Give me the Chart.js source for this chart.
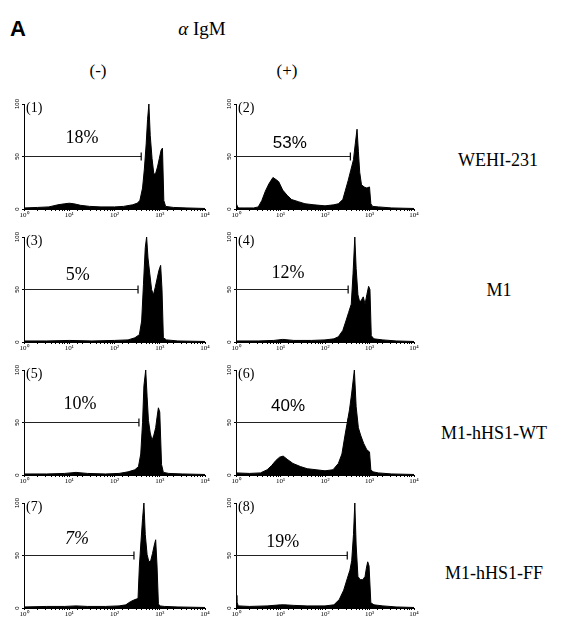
<!DOCTYPE html>
<html>
<head>
<meta charset="utf-8">
<script src="https://cdn.jsdelivr.net/npm/chart.js@4.4.1/dist/chart.umd.min.js"></script>
<style>
  body { margin: 0; background: #fff; }
  #wrap { position: relative; width: 580px; height: 621px; overflow: hidden; color: #000; font-family: "Liberation Serif", serif; }
  .lbl { position: absolute; white-space: nowrap; line-height: 1; transform: translate(-50%, -50%); }
  canvas { position: absolute; }
</style>
</head>
<body>
<div id="wrap">
  <div class="lbl" style="left:18px;top:29px;font-family:'Liberation Sans',sans-serif;font-weight:bold;font-size:22px;">A</div>
  <div class="lbl" style="left:202px;top:28px;font-size:19px;"><i>&alpha;</i> IgM</div>
  <div class="lbl" style="left:98px;top:70px;font-size:17px;">(-)</div>
  <div class="lbl" style="left:287px;top:70px;font-size:17px;">(+)</div>
</div>
<script>
// histogram data: x = log10 fluorescence (decades), y = relative cell number
var p1Log = [0, 0.3, 0.55, 0.75, 0.9, 1.0, 1.1, 1.25, 1.45, 1.7, 2.0, 2.2, 2.4, 2.5, 2.56, 2.62, 2.66, 2.7, 2.73, 2.76, 2.79, 2.83, 2.87, 2.91, 2.95, 2.99, 3.03, 3.06, 3.09, 3.13, 3.3, 3.6, 4.0];
var p1Count = [1, 1.5, 2, 4, 5, 5.5, 5, 3.5, 2.5, 2, 2, 2.5, 4, 5.5, 8, 20, 38, 62, 85, 100, 70, 48, 33, 34, 40, 48, 56, 58, 8, 2.5, 1.5, 1, 0.5];

var p2Log = [0, 0.02, 0.06, 0.2, 0.4, 0.5, 0.58, 0.66, 0.74, 0.83, 0.9, 0.96, 1.05, 1.15, 1.25, 1.4, 1.55, 1.75, 2.0, 2.2, 2.3, 2.4, 2.46, 2.52, 2.58, 2.64, 2.68, 2.72, 2.75, 2.78, 2.82, 2.88, 2.94, 3.0, 3.03, 3.07, 3.2, 3.5, 4.0];
var p2Count = [4, 3, 1, 1, 1, 2, 8, 17, 24, 30, 28, 26, 18, 13, 9, 7, 5, 4, 3, 4, 5, 9, 18, 27, 37, 47, 62, 76, 55, 35, 23, 21, 20, 21, 5, 2.5, 2, 1, 0.5];

var p3Log = [0, 0.5, 1.0, 1.5, 2.0, 2.3, 2.45, 2.55, 2.6, 2.64, 2.68, 2.71, 2.74, 2.78, 2.82, 2.86, 2.9, 2.94, 2.98, 3.02, 3.05, 3.08, 3.15, 3.4, 4.0];
var p3Count = [1, 1, 1.5, 1, 1.5, 2, 4, 7, 20, 55, 90, 100, 80, 65, 50, 45, 52, 60, 68, 73, 50, 4, 2, 1, 0.5];

var p4Log = [0, 0.5, 0.85, 1.05, 1.3, 1.7, 2.0, 2.2, 2.3, 2.4, 2.47, 2.53, 2.59, 2.63, 2.67, 2.7, 2.74, 2.78, 2.82, 2.86, 2.9, 2.94, 2.98, 3.01, 3.04, 3.1, 3.3, 3.6, 4.0];
var p4Count = [1, 1, 1.5, 2.5, 1.5, 1.5, 2, 3, 5, 11, 20, 28, 36, 65, 100, 70, 45, 38, 40, 43, 36, 45, 53, 50, 6, 3, 2, 1, 0.5];

var p5Log = [0, 0.5, 0.9, 1.15, 1.4, 1.8, 2.1, 2.3, 2.45, 2.53, 2.58, 2.62, 2.65, 2.69, 2.72, 2.75, 2.79, 2.83, 2.87, 2.91, 2.94, 2.97, 3.0, 3.04, 3.08, 3.2, 3.5, 4.0];
var p5Count = [1, 1, 1.5, 2.5, 1.5, 1, 1.5, 3, 5, 8, 20, 50, 85, 100, 75, 52, 40, 33, 38, 45, 55, 64, 60, 10, 2.5, 1.5, 1, 0.5];

var p6Log = [0, 0.3, 0.55, 0.7, 0.8, 0.9, 0.98, 1.06, 1.15, 1.28, 1.45, 1.6, 1.8, 2.0, 2.18, 2.3, 2.38, 2.45, 2.5, 2.55, 2.6, 2.66, 2.7, 2.75, 2.8, 2.87, 2.94, 3.0, 3.03, 3.08, 3.2, 3.5, 4.0];
var p6Count = [2, 1.5, 2, 5, 9, 14, 17, 18, 15, 11, 8, 6, 5, 4, 5, 11, 20, 38, 50, 62, 78, 100, 65, 45, 38, 30, 24, 22, 5, 3, 2, 1, 0.5];

var p7Log = [0, 0.5, 0.9, 1.15, 1.4, 1.8, 2.1, 2.25, 2.35, 2.45, 2.52, 2.55, 2.58, 2.62, 2.65, 2.68, 2.72, 2.76, 2.8, 2.84, 2.88, 2.91, 2.94, 2.97, 3.0, 3.1, 3.4, 4.0];
var p7Count = [1, 1.5, 1.5, 2, 1.5, 1.5, 2, 3, 6, 8, 9, 40, 60, 85, 100, 70, 51, 44, 45, 52, 60, 65, 40, 4, 2, 1.5, 1, 0.5];

var p8Log = [0, 0.02, 0.05, 0.3, 0.7, 1.0, 1.1, 1.3, 1.6, 2.0, 2.2, 2.32, 2.42, 2.5, 2.56, 2.6, 2.64, 2.67, 2.7, 2.74, 2.79, 2.85, 2.9, 2.93, 2.96, 2.99, 3.03, 3.1, 3.3, 3.6, 4.0];
var p8Count = [12, 6, 2, 1.5, 2, 3, 3, 2.5, 2, 2, 3, 8, 17, 28, 36, 45, 70, 100, 60, 30, 27, 27, 30, 38, 44, 40, 5, 3, 2, 1, 0.5];

// gate (marker) end, in decades, and the percent inside it
var gateEnd = [2.59, 2.57, 2.52, 2.52, 2.54, 2.52, 2.43, 2.50];
var gatePct = ['18%', '53%', '5%', '12%', '10%', '40%', '7%', '19%'];
var cellLines = ['WEHI-231', 'M1', 'M1-hHS1-WT', 'M1-hHS1-FF'];
var yTicks = [0, 50, 100];
var sup = ['\u2070', '\u00b9', '\u00b2', '\u00b3', '\u2074'];

var panelLog = [p1Log, p2Log, p3Log, p4Log, p5Log, p6Log, p7Log, p8Log];
var panelCount = [p1Count, p2Count, p3Count, p4Count, p5Count, p6Count, p7Count, p8Count];

// where the percent text sits (decades, count) and its font
var pctAt = [[1.28, 67], [1.21, 63], [1.19, 64], [1.17, 65], [1.24, 67], [1.17, 65], [1.17, 65], [1.05, 63]];
var pctFont = ['18px "Liberation Serif"', '17px "Liberation Sans"', '18px "Liberation Serif"', '18px "Liberation Serif"',
               '18px "Liberation Serif"', '17px "Liberation Sans"', 'italic 18px "Liberation Serif"', '18px "Liberation Serif"'];

// layout of the grid
var colLeft = [13, 225], colWidth = [200, 197];
var rowTop = [98, 231, 364, 497];
var rowLabelX = [498, 499, 494, 494];
var rowLabelY = [160, 290, 433, 573];

var wrap = document.getElementById('wrap');
for (var r = 0; r < cellLines.length; r++) {
  var d = document.createElement('div');
  d.className = 'lbl';
  d.style.left = rowLabelX[r] + 'px';
  d.style.top = rowLabelY[r] + 'px';
  d.style.fontSize = '18px';
  d.textContent = cellLines[r];
  wrap.appendChild(d);
}

var panelText = {
  id: 'panelText',
  afterDatasetsDraw: function(chart, args, opts) {
    var ctx = chart.ctx, a = chart.chartArea;
    var xs = chart.scales.x, ys = chart.scales.y;
    ctx.save();
    ctx.fillStyle = '#000';
    ctx.font = '14px "Liberation Serif"';
    ctx.textAlign = 'left';
    ctx.textBaseline = 'middle';
    ctx.fillText(opts.num, a.left + 2, a.top + 4);
    ctx.font = opts.font;
    ctx.textAlign = 'center';
    ctx.fillText(opts.pct, xs.getPixelForValue(Math.pow(10, opts.at[0])), ys.getPixelForValue(opts.at[1]));
    ctx.restore();
  }
};

function makePanel(i) {
  var col = i % 2, row = Math.floor(i / 2);
  var cv = document.createElement('canvas');
  cv.width = colWidth[col];
  cv.height = 122;
  cv.style.left = colLeft[col] + 'px';
  cv.style.top = rowTop[row] + 'px';
  wrap.appendChild(cv);

  var hist = [];
  for (var k = 0; k < panelLog[i].length; k++) {
    hist.push({x: Math.pow(10, panelLog[i][k]), y: panelCount[i][k]});
  }

  new Chart(cv, {
    type: 'line',
    data: {
      datasets: [
        {
          data: hist,
          borderColor: '#000',
          backgroundColor: '#000',
          borderWidth: 1,
          pointRadius: 0,
          fill: 'origin',
          tension: 0
        },
        {
          data: [{x: 1, y: 50}, {x: Math.pow(10, gateEnd[i]), y: 50}],
          borderColor: '#222',
          borderWidth: 1,
          pointRadius: [0, 4],
          pointStyle: 'line',
          rotation: 90,
          pointBorderColor: '#000',
          pointBorderWidth: 1.2,
          fill: false
        }
      ]
    },
    options: {
      responsive: false,
      animation: false,
      events: [],
      layout: { padding: { top: 6, right: 8, left: 0, bottom: 0 } },
      plugins: {
        legend: { display: false },
        tooltip: { enabled: false },
        panelText: { num: '(' + (i + 1) + ')', pct: gatePct[i], at: pctAt[i], font: pctFont[i] }
      },
      scales: {
        x: {
          type: 'logarithmic',
          min: 1,
          max: 10000,
          afterFit: function(s) { s.height = 11; },
          border: { display: true, color: '#000', width: 1 },
          grid: { display: true, drawOnChartArea: false, drawTicks: true, tickLength: 2, color: '#000' },
          ticks: {
            autoSkip: false,
            maxRotation: 0,
            minRotation: 0,
            padding: 0,
            color: '#000',
            font: { family: 'Liberation Serif', size: 7 },
            callback: function(v) {
              var e = Math.round(Math.log10(v));
              return Math.abs(Math.log10(v) - e) < 1e-9 ? '10' + sup[e] : '';
            }
          }
        },
        y: {
          min: 0,
          max: 100,
          afterFit: function(s) { s.width = 11; },
          afterBuildTicks: function(s) { s.ticks = yTicks.map(function(v) { return {value: v}; }); },
          border: { display: true, color: '#000', width: 1 },
          grid: { display: true, drawOnChartArea: false, drawTicks: true, tickLength: 2, color: '#000' },
          ticks: {
            minRotation: 90,
            maxRotation: 90,
            crossAlign: 'center',
            padding: 0,
            color: '#000',
            font: { family: 'Liberation Sans', size: 6 }
          }
        }
      }
    },
    plugins: [panelText]
  });
}

// make sure canvas text gets the real fonts before drawing
Promise.all([
  document.fonts.load('18px "Liberation Serif"'),
  document.fonts.load('italic 18px "Liberation Serif"'),
  document.fonts.load('17px "Liberation Sans"')
]).catch(function() {}).then(function() {
  for (var i = 0; i < 8; i++) makePanel(i);
});
</script>
</body>
</html>
